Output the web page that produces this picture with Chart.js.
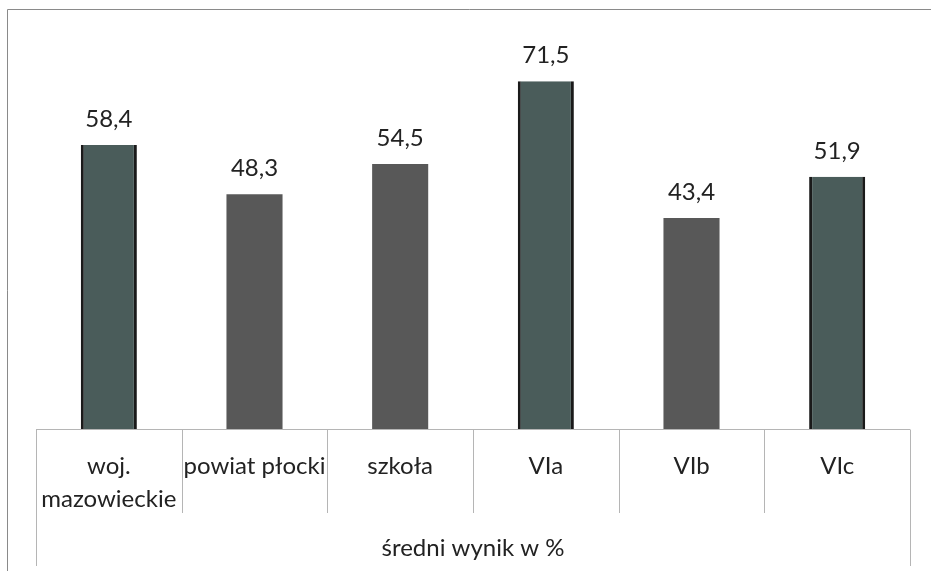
<!DOCTYPE html>
<html>
<head>
<meta charset="utf-8">
<script src="https://cdn.jsdelivr.net/npm/chart.js@4"></script>
<style>
  html, body { margin: 0; padding: 0; background: #fff; }
  #wrap { width: 931px; height: 571px; }
</style>
</head>
<body>
<div id="wrap"><canvas id="chart" width="931" height="571"></canvas></div>
<script>
const categories = [['woj.', 'mazowieckie'], 'powiat płocki', 'szkoła', 'VIa', 'VIb', 'VIc'];
const values = [58.4, 48.3, 54.5, 71.5, 43.4, 51.9];
const valueLabels = ['58,4', '48,3', '54,5', '71,5', '43,4', '51,9'];
const axisTitle = 'średni wynik w %';

const greenish = '#4a5c5a';
const grey = '#585858';
const barColors = [greenish, grey, grey, greenish, grey, greenish];
const edged = [true, false, false, true, false, true];

const FONT = 'Lato, "Open Sans", sans-serif';

// frame + category table lines under the plot
const tablePlugin = {
  id: 'table',
  beforeDraw(chart) {
    const ctx = chart.ctx;
    ctx.save();
    ctx.strokeStyle = '#8a8a8a';
    ctx.lineWidth = 1;
    ctx.beginPath();
    ctx.moveTo(7.5, 571);
    ctx.lineTo(7.5, 9.5);
    ctx.lineTo(931, 9.5);
    ctx.stroke();
    ctx.restore();
  },
  afterDraw(chart) {
    const x = chart.scales.x;
    const ctx = chart.ctx;
    const base = chart.chartArea.bottom + 0.5;
    const step = (x.right - x.left) / categories.length;
    ctx.save();
    ctx.strokeStyle = '#b5b5b5';
    ctx.lineWidth = 1;
    ctx.beginPath();
    ctx.moveTo(x.left, base);
    ctx.lineTo(x.right, base);
    for (let i = 0; i <= categories.length; i++) {
      const px = Math.round(x.getPixelForValue(i) - step / 2) + 0.5;
      const outer = i === 0 || i === categories.length;
      ctx.moveTo(px, base);
      ctx.lineTo(px, outer ? 566 : 513);
    }
    ctx.stroke();
    ctx.restore();
  }
};

// value labels on top of bars
const labelPlugin = {
  id: 'valueLabels',
  afterDatasetsDraw(chart) {
    const ctx = chart.ctx;
    const meta = chart.getDatasetMeta(0);
    ctx.save();
    ctx.font = '24px ' + FONT;
    ctx.fillStyle = '#222';
    ctx.textAlign = 'center';
    ctx.textBaseline = 'alphabetic';
    meta.data.forEach((bar, i) => {
      ctx.fillText(valueLabels[i], bar.x, bar.y - 18);
    });
    ctx.restore();
  }
};

new Chart(document.getElementById('chart'), {
  type: 'bar',
  data: {
    labels: categories,
    datasets: [{
      data: values,
      backgroundColor: barColors,
      borderColor: '#1a1a1a',
      borderWidth: edged.map(e => e ? {left: 3, right: 3, top: 0, bottom: 0} : 0),
      borderSkipped: false,
      categoryPercentage: 1,
      barPercentage: 0.385
    }]
  },
  options: {
    responsive: false,
    animation: false,
    layout: { padding: { left: 36, right: 21, top: 40, bottom: 0 } },
    plugins: { legend: { display: false }, tooltip: { enabled: false } },
    scales: {
      y: { display: false, min: 0, max: 80 },
      x: {
        offset: true,
        grid: { display: false, drawTicks: false },
        border: { display: false },
        ticks: {
          color: '#222',
          font: { family: FONT, size: 24, lineHeight: 1.4 },
          padding: 20,
          maxRotation: 0,
          autoSkip: false
        },
        title: {
          display: true,
          text: axisTitle,
          color: '#222',
          font: { family: FONT, size: 24, lineHeight: 1.4 },
          padding: { top: 0, bottom: 6 }
        },
        afterFit(scale) { scale.height = 142; }
      }
    }
  },
  plugins: [tablePlugin, labelPlugin]
});
</script>
</body>
</html>
